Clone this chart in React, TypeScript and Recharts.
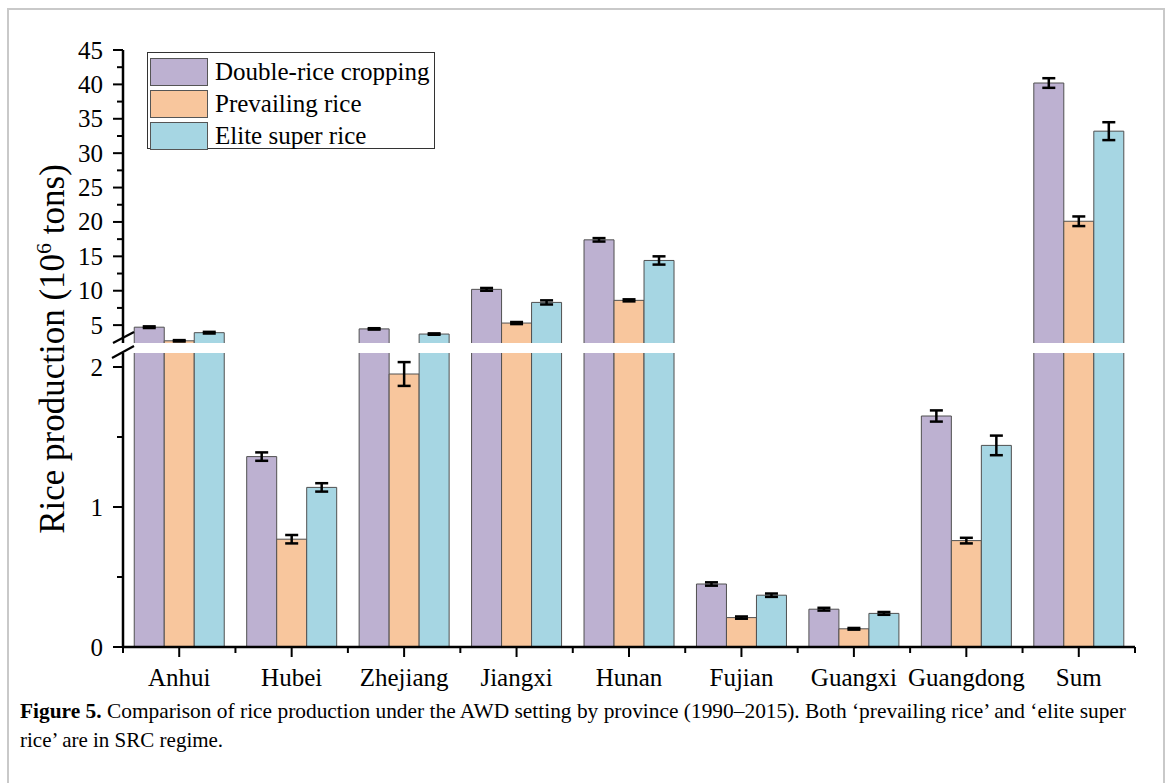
import React from 'react';
import { BarChart, Bar, XAxis, YAxis, ErrorBar, Legend } from 'recharts';

const PROVINCES = ['Anhui', 'Hubei', 'Zhejiang', 'Jiangxi', 'Hunan', 'Fujian', 'Guangxi', 'Guangdong', 'Sum'];
const DOUBLE_RICE = [4.7, 1.36, 4.45, 10.2, 17.4, 0.45, 0.27, 1.65, 40.2];
const DOUBLE_RICE_ERR = [0.12, 0.03, 0.1, 0.2, 0.25, 0.012, 0.01, 0.04, 0.7];
const PREVAILING = [2.72, 0.77, 1.95, 5.3, 8.6, 0.21, 0.13, 0.76, 20.1];
const PREVAILING_ERR = [0.1, 0.03, 0.085, 0.15, 0.15, 0.008, 0.006, 0.02, 0.7];
const ELITE = [3.9, 1.14, 3.7, 8.3, 14.4, 0.37, 0.24, 1.44, 33.2];
const ELITE_ERR = [0.12, 0.03, 0.1, 0.3, 0.6, 0.012, 0.01, 0.07, 1.3];

const SERIES_NAMES = ['Double-rice cropping', 'Prevailing rice', 'Elite super rice'];
const COLORS = ['#bdb1d1', '#f8c69d', '#a6d6e3'];

const UPPER_MIN = 2.4;
const UPPER_MAX = 45;
const LOWER_MAX = 2.1;
const UPPER_MAJOR = [5, 10, 15, 20, 25, 30, 35, 40, 45];
const UPPER_MINOR = [7.5, 12.5, 17.5, 22.5, 27.5, 32.5, 37.5, 42.5];
const LOWER_MAJOR = [0, 1, 2];
const LOWER_MINOR = [0.5, 1.5];

const FONT = "'Liberation Serif', 'Times New Roman', serif";
const TICK_SIZE = 10;
const TICK_MARGIN = 10;

const SERIES = [
  { key: 'dbl', vals: DOUBLE_RICE, errs: DOUBLE_RICE_ERR },
  { key: 'prev', vals: PREVAILING, errs: PREVAILING_ERR },
  { key: 'elite', vals: ELITE, errs: ELITE_ERR },
];

const upperData = PROVINCES.map((name, i) => {
  const row: any = { name };
  SERIES.forEach((s) => {
    const v = s.vals[i];
    row[s.key] = v > UPPER_MIN ? v : null;
    row[s.key + 'Err'] = v > UPPER_MIN ? s.errs[i] : null;
  });
  return row;
});

const lowerData = PROVINCES.map((name, i) => {
  const row: any = { name };
  SERIES.forEach((s) => {
    const v = s.vals[i];
    row[s.key] = Math.min(v, LOWER_MAX);
    row[s.key + 'Err'] = v <= LOWER_MAX ? s.errs[i] : null;
    row[s.key + 'Cut'] = v > LOWER_MAX;
  });
  return row;
});

const makeShape = (fill: string, cutKey: string, part: 'upper' | 'lower') => (props: any) => {
  const { x, y, width, height, payload } = props;
  if (height == null || isNaN(height) || height <= 0 || x == null) return <g />;
  let d: string;
  if (part === 'upper') {
    d = `M${x},${y + height} L${x},${y} L${x + width},${y} L${x + width},${y + height}`;
  } else if (payload && payload[cutKey]) {
    d = `M${x},${y} L${x},${y + height} L${x + width},${y + height} L${x + width},${y}`;
  } else {
    d = `M${x},${y} L${x},${y + height} L${x + width},${y + height} L${x + width},${y} Z`;
  }
  return (
    <g>
      <rect x={x} y={y} width={width} height={height} fill={fill} stroke="none" />
      <path d={d} fill="none" stroke="#505050" strokeWidth={1} />
    </g>
  );
};

const makeYTick = (majors: number[]) => (props: any) => {
  const { x, y, payload } = props;
  const v = payload.value;
  const major = majors.includes(v);
  const ax = x + TICK_SIZE + TICK_MARGIN;
  return (
    <g>
      <line x1={ax - (major ? 10 : 6)} x2={ax} y1={y} y2={y} stroke="#000" strokeWidth={2} />
      {major && (
        <text x={x} y={y} dy="0.34em" textAnchor="end" fontSize={25} fontFamily={FONT} fill="#000">
          {v}
        </text>
      )}
    </g>
  );
};

const XTick = (props: any) => {
  const { x, y, payload, width, visibleTicksCount, index } = props;
  const ay = y - TICK_SIZE - 8;
  const bw = width / visibleTicksCount;
  return (
    <g>
      <line x1={x} x2={x} y1={ay} y2={ay + 10} stroke="#000" strokeWidth={2} />
      <line x1={x - bw / 2} x2={x - bw / 2} y1={ay} y2={ay + 6} stroke="#000" strokeWidth={2} />
      {index === visibleTicksCount - 1 && (
        <line x1={x + bw / 2} x2={x + bw / 2} y1={ay} y2={ay + 6} stroke="#000" strokeWidth={2} />
      )}
      <text x={x} y={ay + 39} textAnchor="middle" fontSize={25} fontFamily={FONT} fill="#000">
        {payload.value}
      </text>
    </g>
  );
};

const renderLegend = (props: any) => {
  const payload = [...(props.payload || [])].sort(
    (a: any, b: any) => SERIES_NAMES.indexOf(a.value) - SERIES_NAMES.indexOf(b.value)
  );
  return (
    <div
      style={{
        boxSizing: 'border-box',
        width: 288,
        height: 97,
        border: '1.5px solid #333',
        background: '#fff',
        padding: '3px 0 0 2px',
      }}
    >
      {payload.map((e: any) => (
        <div key={e.value} style={{ display: 'flex', alignItems: 'center', height: 32 }}>
          <span
            style={{
              display: 'inline-block',
              boxSizing: 'border-box',
              width: 58,
              height: 28,
              background: e.color,
              border: '1.5px solid #555',
              marginRight: 7,
            }}
          />
          <span style={{ fontSize: 25, fontFamily: FONT, color: '#000', lineHeight: '28px', whiteSpace: 'nowrap' }}>{e.value}</span>
        </div>
      ))}
    </div>
  );
};

export default function App() {
  return (
    <div style={{ position: 'relative', width: 1170, height: 783, background: '#fff', overflow: 'hidden' }}>
      <style>{`html,body{margin:0;padding:0;overflow:hidden;background:#fff}`}</style>
      <div
        style={{
          position: 'absolute',
          left: 7,
          top: 8,
          width: 1158,
          height: 800,
          boxSizing: 'border-box',
          border: '2px solid #c9c9c9',
        }}
      />
      {/* upper segment */}
      <div style={{ position: 'absolute', left: 0, top: 0 }}>
        <BarChart
          width={1170}
          height={343}
          data={upperData}
          margin={{ top: 50, right: 35, bottom: 0, left: 63 }}
          barCategoryGap="10%"
          barGap={0}
        >
          <XAxis dataKey="name" hide />
          <YAxis
            width={60}
            type="number"
            domain={[UPPER_MIN, UPPER_MAX]}
            allowDataOverflow
            ticks={[...UPPER_MAJOR, ...UPPER_MINOR]}
            interval={0}
            tickSize={TICK_SIZE}
            tickMargin={TICK_MARGIN}
            tickLine={false}
            axisLine={{ stroke: '#000', strokeWidth: 2.5 }}
            tick={makeYTick(UPPER_MAJOR)}
          />
          <Legend
            layout="vertical"
            align="center"
            verticalAlign="middle"
            content={renderLegend}
            wrapperStyle={{ left: 147, top: 52, width: 288, height: 97 }}
          />
          {SERIES.map((s, i) => (
            <Bar
              key={s.key}
              dataKey={s.key}
              name={SERIES_NAMES[i]}
              fill={COLORS[i]}
              isAnimationActive={false}
              shape={makeShape(COLORS[i], s.key + 'Cut', 'upper')}
            >
              <ErrorBar dataKey={s.key + 'Err'} width={6.5} strokeWidth={2.5} stroke="#000" isAnimationActive={false} />
            </Bar>
          ))}
        </BarChart>
      </div>
      {/* lower segment */}
      <div style={{ position: 'absolute', left: 0, top: 0 }}>
        <BarChart
          width={1170}
          height={720}
          data={lowerData}
          margin={{ top: 353, right: 35, bottom: 23, left: 63 }}
          barCategoryGap="10%"
          barGap={0}
        >
          <XAxis
            dataKey="name"
            height={50}
            interval={0}
            tickSize={TICK_SIZE}
            tickMargin={8}
            tickLine={false}
            axisLine={{ stroke: '#000', strokeWidth: 2.5 }}
            tick={XTick}
          />
          <YAxis
            width={60}
            type="number"
            domain={[0, LOWER_MAX]}
            allowDataOverflow
            ticks={[...LOWER_MAJOR, ...LOWER_MINOR]}
            interval={0}
            tickSize={TICK_SIZE}
            tickMargin={TICK_MARGIN}
            tickLine={false}
            axisLine={{ stroke: '#000', strokeWidth: 2.5 }}
            tick={makeYTick(LOWER_MAJOR)}
          />
          {SERIES.map((s, i) => (
            <Bar
              key={s.key}
              dataKey={s.key}
              name={SERIES_NAMES[i]}
              fill={COLORS[i]}
              isAnimationActive={false}
              shape={makeShape(COLORS[i], s.key + 'Cut', 'lower')}
            >
              <ErrorBar dataKey={s.key + 'Err'} width={6.5} strokeWidth={2.5} stroke="#000" isAnimationActive={false} />
            </Bar>
          ))}
        </BarChart>
      </div>
      {/* overlay: axis title, break marks, caption */}
      <svg
        width={1170}
        height={783}
        style={{ position: 'absolute', left: 0, top: 0, pointerEvents: 'none' }}
      >
        <text
          transform="translate(64,349) rotate(-90)"
          textAnchor="middle"
          fontSize={35}
          fontFamily={FONT}
          fill="#000"
        >
          Rice production (10
          <tspan fontSize={22} dy={-13}>6</tspan>
          <tspan dy={13}> tons)</tspan>
        </text>
        <line x1={113} y1={343} x2={134} y2={332} stroke="#000" strokeWidth={2.2} />
        <line x1={112} y1={358} x2={134} y2={346} stroke="#000" strokeWidth={2.2} />
        <text x={20} y={718} fontSize={21} fontFamily={FONT} fill="#000" textLength={1106} lengthAdjust="spacingAndGlyphs">
          <tspan fontWeight="bold">Figure 5.</tspan> Comparison of rice production under the AWD setting by province (1990–2015). Both ‘prevailing rice’ and ‘elite super
        </text>
        <text x={20} y={747} fontSize={21} fontFamily={FONT} fill="#000">
          rice’ are in SRC regime.
        </text>
      </svg>
    </div>
  );
}
